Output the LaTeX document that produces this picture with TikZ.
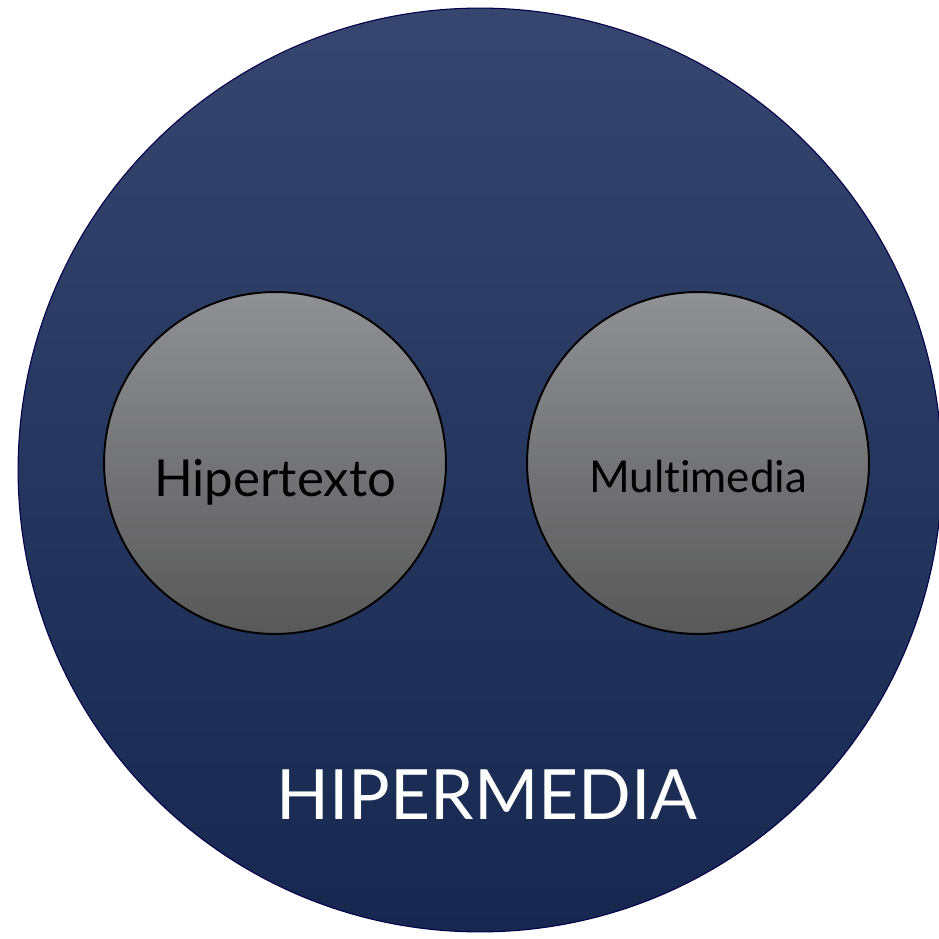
\documentclass[tikz,border=0pt]{standalone}
\usepackage{fontspec}
\setmainfont{Lato}
\begin{document}
\begin{tikzpicture}[x=0.02cm,y=-0.02cm,
  outer/.style={circle,draw=black!70!blue,line width=0.6pt,minimum size=18.48cm,top color=bigtop,bottom color=bigbot,inner sep=0pt},
  inner/.style={circle,draw=black,line width=1.1pt,minimum size=6.84cm,top color=smalltop,bottom color=smallbot,inner sep=0pt},
  lbl/.style={text=black,inner sep=0pt,anchor=base}]
\definecolor{bigtop}{HTML}{36466F}
\definecolor{bigbot}{HTML}{16284F}
\definecolor{smalltop}{HTML}{909195}
\definecolor{smallbot}{HTML}{585858}
\useasboundingbox (0,0) rectangle (938,939);
\fill[white] (0,0) rectangle (938,939);
\node[outer] (big) at (480,470) {};
\node[inner] (hiper) at (275,463) {};
\node[inner] (multi) at (698,463) {};
\node[lbl,font=\fontsize{29}{30}\selectfont] (thiper) at (275,496) {Hipertexto};
\node[lbl,font=\fontsize{25}{26}\selectfont] (tmulti) at (698,492) {Mult\kern0pt imedia};
\node[lbl,text=white,font=\fontsize{39.5}{42}\selectfont] (thm) at (487,819) {HIPERMEDIA};
\end{tikzpicture}
\end{document}
